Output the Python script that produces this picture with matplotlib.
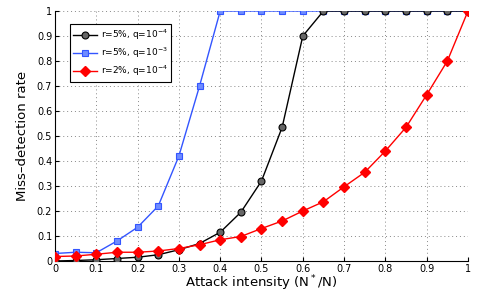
import matplotlib
matplotlib.use('Agg')
import matplotlib.pyplot as plt
import numpy as np

# attack intensity N*/N
x = [0, 0.05, 0.1, 0.15, 0.2, 0.25, 0.3, 0.35, 0.4, 0.45, 0.5,
     0.55, 0.6, 0.65, 0.7, 0.75, 0.8, 0.85, 0.9, 0.95, 1.0]

# miss-detection rates
r5_q4 = [0.0, 0.002, 0.005, 0.01, 0.015, 0.025, 0.045, 0.07, 0.115, 0.195, 0.32,
         0.535, 0.90, 1, 1, 1, 1, 1, 1, 1, 1]
r5_q3 = [0.03, 0.035, 0.033, 0.08, 0.135, 0.22, 0.42, 0.70, 1, 1, 1,
         1, 1, 1, 1, 1, 1, 1, 1, 1, 1]
r2_q4 = [0.018, 0.02, 0.027, 0.035, 0.035, 0.04, 0.05, 0.065, 0.085, 0.098, 0.13,
         0.16, 0.2, 0.237, 0.297, 0.355, 0.44, 0.535, 0.665, 0.80, 1.0]

labels = [r'r=5%, q=10$^{-4}$', r'r=5%, q=10$^{-3}$', r'r=2%, q=10$^{-4}$']
ticks = np.round(np.arange(0, 1.01, 0.1), 1)
tick_labels = ['0'] + ['%.1f' % t for t in ticks[1:-1]] + ['1']

fig = plt.figure(figsize=(4.85, 2.94), dpi=100)
ax = fig.add_axes([55/485, 1-261/294, 413/485, 250/294])

ax.plot(x, r5_q4, '-o', color='black', lw=1, ms=5, mfc='#666666', mec='black', mew=0.8,
        label=labels[0], zorder=3)
ax.plot(x, r5_q3, '-s', color='#3355ff', lw=1, ms=5, mfc='#6f8cff', mec='#3355ff', mew=0.8,
        label=labels[1], zorder=2)
ax.plot(x, r2_q4, '-D', color='#ff0000', lw=1, ms=5.5, mfc='#ff0000', mec='#ff0000',
        label=labels[2], zorder=4)

ax.set_xlim(0, 1)
ax.set_ylim(0, 1)
ax.set_xticks(ticks)
ax.set_yticks(ticks)
ax.set_xticklabels(tick_labels)
ax.set_yticklabels(tick_labels)
ax.tick_params(direction='in', labelsize=7, length=3, pad=2)
ax.grid(True, linestyle=(0, (1, 3)), color='#888888', lw=0.7)
ax.spines['top'].set_visible(False)
ax.spines['right'].set_visible(False)

ax.set_xlabel('Attack intensity (N$^*$/N)', fontsize=9.5, labelpad=0)
ax.set_ylabel('Miss\u2013detection rate', fontsize=9.5, labelpad=6)

leg = ax.legend(loc='upper left', fontsize=6.5, fancybox=False, framealpha=1,
                edgecolor='black', borderpad=0.4, handlelength=2.6, labelspacing=0.4,
                handletextpad=0.4, bbox_to_anchor=(0.025, 0.965))
leg.get_frame().set_linewidth(0.8)

fig.savefig('out.png', dpi=100)
